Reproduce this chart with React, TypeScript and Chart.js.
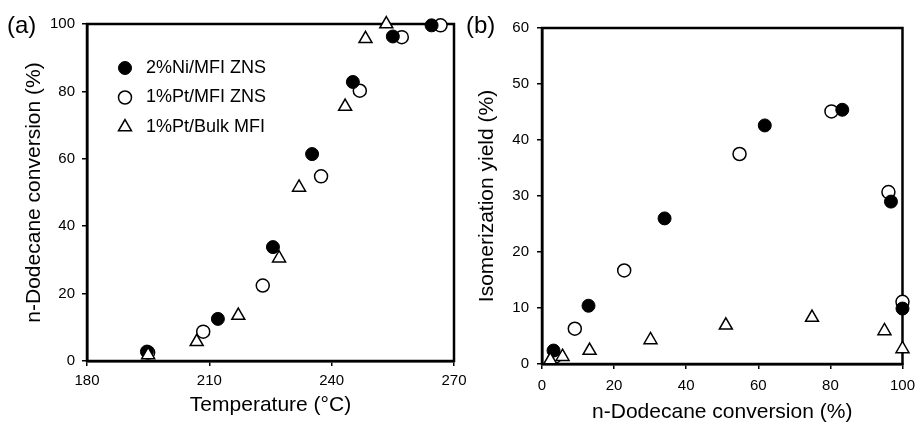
import React, { useEffect, useRef } from 'react';
import { Chart, registerables } from 'chart.js';
import { drawPoint } from 'chart.js/helpers';

Chart.register(...registerables);

const FONT = "'Liberation Sans', Arial, Helvetica, sans-serif";

// ---------- Panel (a): conversion vs temperature ----------
const seriesLabels = ['2%Ni/MFI ZNS', '1%Pt/MFI ZNS', '1%Pt/Bulk MFI'];

const tempNi = [194.7, 212.1, 225.6, 235.2, 245.2, 255.0, 264.5];
const convNi = [2.8, 12.5, 33.8, 61.4, 82.8, 96.3, 99.6];

const tempPtZns = [195.0, 208.5, 223.1, 237.4, 246.9, 257.2, 266.7];
const convPtZns = [2.5, 8.7, 22.4, 54.8, 80.2, 96.1, 99.6];

const tempBulk = [195.0, 206.9, 217.1, 227.1, 232.0, 243.3, 248.3, 253.4];
const convBulk = [1.8, 5.7, 13.5, 30.5, 51.5, 75.5, 95.6, 100.0];

const xTicksA = { min: 180, max: 270, step: 30 };
const yTicksA = { min: 0, max: 100, step: 20 };

// ---------- Panel (b): isomerization yield vs conversion ----------
const convNiB = [3.2, 12.9, 34.0, 61.8, 83.3, 96.8, 100];
const yieldNi = [2.4, 10.4, 26.0, 42.6, 45.4, 29.0, 9.9];

const convPtB = [3.6, 9.1, 22.8, 54.8, 80.3, 96.1, 100];
const yieldPt = [1.3, 6.3, 16.7, 37.5, 45.1, 30.7, 11.1];

const convBulkB = [2.3, 5.7, 13.2, 30.1, 51.0, 74.9, 95.0, 100];
const yieldBulk = [0.7, 1.3, 2.4, 4.3, 6.9, 8.3, 5.9, 2.7];

const xTicksB = { min: 0, max: 100, step: 20 };
const yTicksB = { min: 0, max: 60, step: 10 };

const zip = (xs: number[], ys: number[]) => xs.map((x, i) => ({ x, y: ys[i] }));

function makeDatasets(niX: number[], niY: number[], ptX: number[], ptY: number[], bX: number[], bY: number[]) {
  return [
    {
      label: seriesLabels[0],
      data: zip(niX, niY),
      pointStyle: 'circle',
      pointRadius: 6.5,
      backgroundColor: '#000',
      borderColor: '#000',
      borderWidth: 1,
      order: 1,
      clip: false as const,
    },
    {
      label: seriesLabels[1],
      data: zip(ptX, ptY),
      pointStyle: 'circle',
      pointRadius: 6.5,
      backgroundColor: '#fff',
      borderColor: '#000',
      borderWidth: 1.5,
      order: 2,
      clip: false as const,
    },
    {
      label: seriesLabels[2],
      data: zip(bX, bY),
      pointStyle: 'triangle',
      pointRadius: 7.5,
      backgroundColor: '#fff',
      borderColor: '#000',
      borderWidth: 1.5,
      order: 0,
      clip: false as const,
    },
  ];
}

const framePlugin = {
  id: 'frame',
  beforeDatasetsDraw(chart: any) {
    const { ctx, chartArea: a } = chart;
    ctx.save();
    ctx.strokeStyle = '#000';
    ctx.lineWidth = 2.5;
    ctx.strokeRect(a.left, a.top, a.right - a.left, a.bottom - a.top);
    ctx.restore();
  },
};

const innerLegendPlugin = {
  id: 'innerLegend',
  afterDatasetsDraw(chart: any, _args: any, opts: any) {
    if (!opts || !opts.display) return;
    const { ctx, chartArea: a } = chart;
    chart.data.datasets.forEach((ds: any, i: number) => {
      const x = a.left + opts.offsetX;
      const y = a.top + opts.offsetY + i * opts.rowGap;
      ctx.save();
      ctx.fillStyle = ds.backgroundColor;
      ctx.strokeStyle = ds.borderColor;
      ctx.lineWidth = ds.borderWidth;
      drawPoint(ctx, { pointStyle: ds.pointStyle, radius: ds.pointRadius, borderWidth: ds.borderWidth, rotation: 0 } as any, x, y);
      ctx.fillStyle = '#000';
      ctx.font = `18px ${FONT}`;
      ctx.textBaseline = 'middle';
      ctx.textAlign = 'left';
      ctx.fillText(ds.label, x + opts.textGap, y);
      ctx.restore();
    });
  },
};

function scale(
  t: { min: number; max: number; step: number },
  title: string,
  titlePad: any,
  tickPad: number,
  fit: (s: any) => void
) {
  return {
    type: 'linear' as const,
    min: t.min,
    max: t.max,
    ticks: {
      stepSize: t.step,
      color: '#000',
      padding: tickPad,
      font: { family: FONT, size: 15 },
    },
    grid: {
      display: true,
      drawOnChartArea: false,
      drawTicks: true,
      tickLength: 5,
      color: '#000',
      lineWidth: 1.5,
    },
    border: { display: true, color: '#000', width: 2.5 },
    title: {
      display: true,
      text: title,
      color: '#000',
      padding: titlePad,
      font: { family: FONT, size: 21 },
    },
    afterFit: fit,
  };
}

function ChartCanvas({ config, left, width, height }: { config: any; left: number; width: number; height: number }) {
  const ref = useRef<HTMLCanvasElement | null>(null);
  useEffect(() => {
    if (!ref.current) return;
    const chart = new Chart(ref.current, config);
    return () => chart.destroy();
  }, []);
  return (
    <canvas
      ref={ref}
      width={width}
      height={height}
      style={{ position: 'absolute', left, top: 0, width, height }}
    />
  );
}

const configA = {
  type: 'scatter',
  data: { datasets: makeDatasets(tempNi, convNi, tempPtZns, convPtZns, tempBulk, convBulk) },
  options: {
    responsive: false,
    animation: false,
    events: [],
    layout: { padding: { top: 24, right: 21, left: 0, bottom: 0 } },
    scales: {
      x: scale(xTicksA, 'Temperature (°C)', { top: 0, bottom: 8 }, 6, (s: any) => { s.height = 65; }),
      y: scale(yTicksA, 'n-Dodecane conversion (%)', { top: 22, bottom: 0 }, 7, (s: any) => { s.width = 87; }),
    },
    plugins: {
      legend: { display: false },
      tooltip: { enabled: false },
      innerLegend: { display: true, offsetX: 38, offsetY: 44, rowGap: 29.5, textGap: 21 },
    },
  },
  plugins: [framePlugin, innerLegendPlugin],
};

const configB = {
  type: 'scatter',
  data: { datasets: makeDatasets(convNiB, yieldNi, convPtB, yieldPt, convBulkB, yieldBulk) },
  options: {
    responsive: false,
    animation: false,
    events: [],
    layout: { padding: { top: 28, right: 12, left: 0, bottom: 0 } },
    scales: {
      x: scale(xTicksB, 'n-Dodecane conversion (%)', { top: 0, bottom: 1 }, 8, (s: any) => { s.height = 62; }),
      y: scale(yTicksB, 'Isomerization yield (%)', { top: 15, bottom: 0 }, 8, (s: any) => { s.width = 82; }),
    },
    plugins: {
      legend: { display: false },
      tooltip: { enabled: false },
      innerLegend: { display: false },
    },
  },
  plugins: [framePlugin, innerLegendPlugin],
};

const panelLabel: React.CSSProperties = {
  position: 'absolute',
  top: 10,
  fontFamily: FONT,
  fontSize: 24,
  lineHeight: '30px',
  color: '#000',
};

export default function App() {
  return (
    <div style={{ position: 'absolute', left: 0, top: 0, width: 923, height: 426, background: '#fff', overflow: 'hidden' }}>
      <ChartCanvas config={configA} left={0} width={475} height={426} />
      <ChartCanvas config={configB} left={460} width={463} height={426} />
      <div style={{ ...panelLabel, left: 7 }}>(a)</div>
      <div style={{ ...panelLabel, left: 466 }}>(b)</div>
    </div>
  );
}
